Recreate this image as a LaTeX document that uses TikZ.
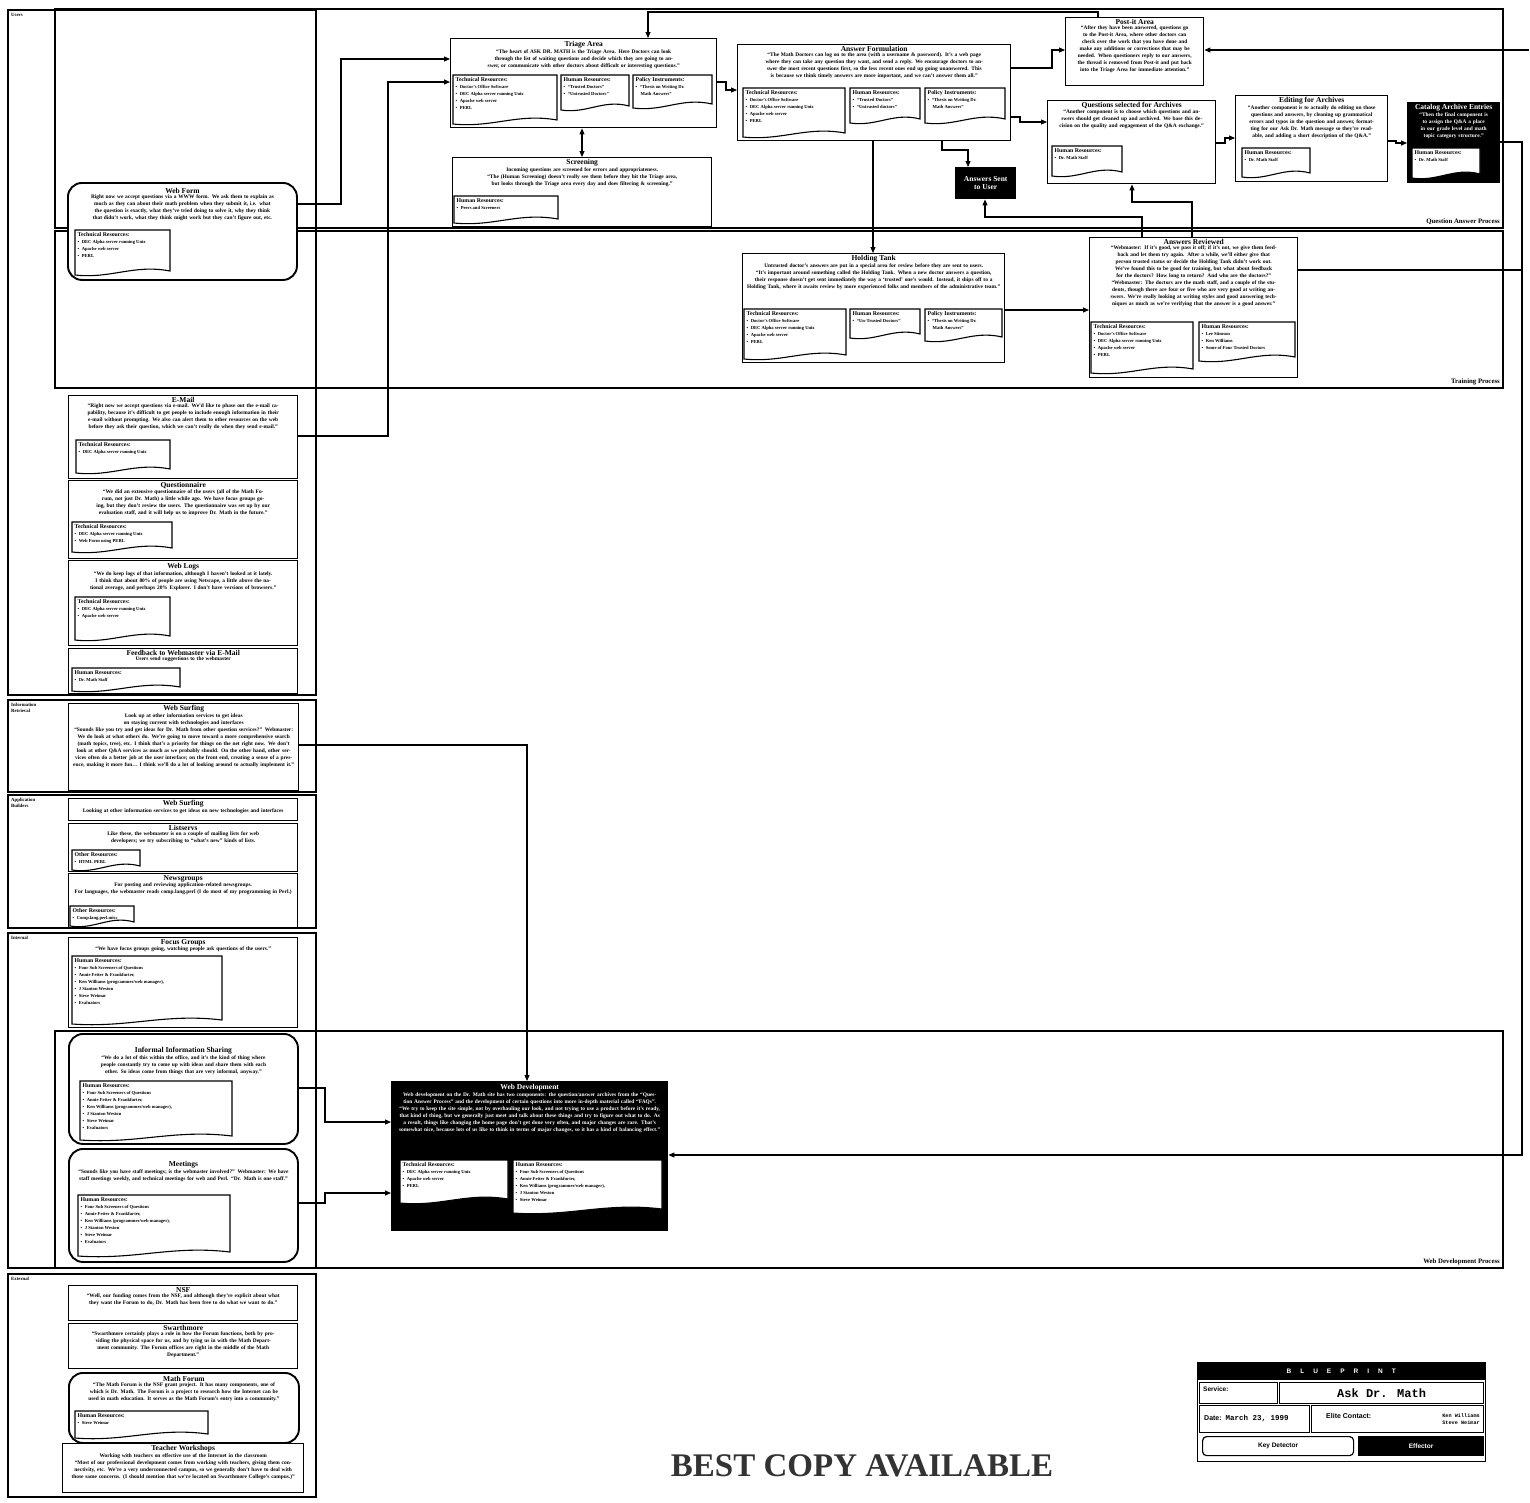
\documentclass[tikz,border=0pt]{standalone}
\usepackage{fontspec}
\setmainfont{Liberation Serif}
\newfontfamily\bpsans{Liberation Sans}
\newfontfamily\bpmono{Liberation Mono}
\usetikzlibrary{arrows.meta}
\newcommand\ttlfont{\fontsize{7.5}{8.5}\selectfont\bfseries}
\newcommand\bdyfont{\fontsize{5.4}{7}\selectfont\bfseries}
\newcommand\doctfont{\fontsize{4.6}{7}\selectfont\bfseries}
\newcommand\resh[1]{{\fontsize{5.8}{7}\selectfont #1}}
\newcommand\dbul{\textbullet\hspace{2.5pt}}
\newcommand\bx[6]{\node[#6, anchor=north west, minimum width={#4-#2}, minimum height={#5-#3}] (#1) at (#2,#3) {};}
\newcommand\tbx[6][]{%
  \node[ttlx,#1] (#2-t) at (#2.north |- 0,#3) {#5};
  \node[bdyx,#1,text width=#4] (#2-b) at ([yshift=-1pt]#2-t.south) {#6};}
\newcommand\rdoc[6]{%
  \path[docx] (#2,#3) -- (#4,#3) -- (#4,#5-4) .. controls ({#2+0.62*(#4-#2)},#5-11) and ({#2+0.38*(#4-#2)},#5+4) .. (#2,#5) -- cycle;
  \node[doctx] (#1) at (#2+2.5,#3+2.5) {#6};}
\newcommand\trA{\resh{Technical Resources:}\\\dbul Doctor's Office Software\\\dbul DEC Alpha server running Unix\\\dbul Apache web server\\\dbul PERL}
\newcommand\trB{\resh{Technical Resources:}\\\dbul DEC Alpha server running Unix\\\dbul Apache web server\\\dbul PERL}
\newcommand\hrStaff{\resh{Human Resources:}\\\dbul Dr. Math Staff}
\newcommand\piThesis{\resh{Policy Instruments:}\\\dbul ``Thesis on Writing Dr.\\\hspace*{5pt}Math Answers''}
\newcommand\hrTeam{\resh{Human Resources:}\\\dbul Four Sub Screeners of Questions\\\dbul Annie Fetter \& Frankfurter,\\\dbul Ken Williams (programmer/web manager),\\\dbul J Stanton Weston\\\dbul Steve Weimar\\\dbul Evaluators}
\tikzset{
  lanebox/.style={draw, line width=1.1pt},
  boxw/.style={draw, line width=1.4pt, fill=white, inner sep=0pt},
  boxr/.style={boxw, rounded corners=14pt, line width=1.9pt},
  boxb/.style={draw, line width=1.4pt, fill=black, inner sep=0pt},
  ttlx/.style={anchor=north, font=\ttlfont, align=center, inner sep=0pt},
  bdyx/.style={anchor=north, font=\bdyfont, align=center, inner sep=0pt},
  docx/.style={draw, line width=1.1pt, fill=white},
  doctx/.style={anchor=north west, align=left, inner sep=0pt, font=\doctfont},
  lblx/.style={anchor=north west, align=left, inner sep=0pt, font=\fontsize{4.8}{5.8}\selectfont\bfseries},
  plblx/.style={anchor=south east, inner sep=0pt, font=\fontsize{6.8}{7.5}\selectfont\bfseries},
  connar/.style={line width=1.1pt, -{Triangle[length=6pt,width=5pt]}},
  connln/.style={line width=1.1pt},
  bpcell/.style={draw, line width=1.2pt, anchor=north west, inner sep=0pt},
}
\begin{document}
\begin{tikzpicture}[x=1pt,y=-1pt]
\useasboundingbox (0,0) rectangle (1530,1502);
\fill[white] (0,0) rectangle (1530,1502);

% ---------- actor lanes ----------
\draw[lanebox] (8,10) rectangle (316,695);
\node[lblx] (l-users) at (11,13) {Users};
\draw[lanebox] (8,700) rectangle (316,792);
\node[lblx] (l-ir) at (11,703) {Information\\Retrieval};
\draw[lanebox] (8,795) rectangle (316,928);
\node[lblx] (l-ab) at (11,798) {Application\\Builders};
\draw[lanebox] (8,933) rectangle (316,1268);
\node[lblx] (l-int) at (11,936) {Internal};
\draw[lanebox] (8,1274) rectangle (316,1497);
\node[lblx] (l-ext) at (11,1277) {External};

% ---------- processes ----------
\draw[lanebox] (55,9) rectangle (1503,228);
\node[plblx] (p-qa) at (1500,225) {Question Answer Process};
\draw[lanebox] (55,231) rectangle (1503,388);
\node[plblx] (p-tr) at (1500,385) {Training Process};
\draw[lanebox] (55,1031) rectangle (1503,1268);
\node[plblx] (p-wd) at (1500,1265) {Web Development Process};

% ---------- Users ----------
\bx{webform}{67}{182}{296}{279}{boxr}
\tbx{webform}{188}{220pt}{Web Form}{Right now we accept questions via a WWW form. We ask them to explain as much as they can about their math problem when they submit it, i.e. what the question is exactly, what they've tried doing to solve it, why they think that didn't work, what they think might work but they can't figure out, etc.}
\rdoc{webform-tr}{75}{230}{170}{275}{\trB}

\bx{email}{68}{395}{297}{478}{boxw}
\tbx{email}{397}{222pt}{E-Mail}{``Right now we accept questions via e-mail. We'd like to phase out the e-mail capability, because it's difficult to get people to include enough information in their e-mail without prompting. We also can alert them to other resources on the web before they ask their question, which we can't really do when they send e-mail.''}
\rdoc{email-tr}{76}{440}{170}{473}{\resh{Technical Resources:}\\\dbul DEC Alpha server running Unix}

\bx{quest}{68}{480}{297}{558}{boxw}
\tbx{quest}{482}{222pt}{Questionnaire}{``We did an extensive questionnaire of the users (all of the Math Forum, not just Dr. Math) a little while ago. We have focus groups going, but they don't review the users. The questionnaire was set up by our evaluation staff, and it will help us to improve Dr. Math in the future.''}
\rdoc{quest-tr}{72}{522}{172}{552}{\resh{Technical Resources:}\\\dbul DEC Alpha server running Unix\\\dbul Web Form using PERL}

\bx{logs}{68}{560}{297}{645}{boxw}
\tbx{logs}{563}{222pt}{Web Logs}{``We do keep logs of that information, although I haven't looked at it lately. I think that about 80\% of people are using Netscape, a little above the national average, and perhaps 20\% Explorer. I don't have versions of browsers.''}
\rdoc{logs-tr}{75}{597}{170}{640}{\resh{Technical Resources:}\\\dbul DEC Alpha server running Unix\\\dbul Apache web server}

\bx{feedback}{68}{648}{297}{693}{boxw}
\tbx{feedback}{650}{222pt}{Feedback to Webmaster via E-Mail}{Users send suggestions to the webmaster}
\rdoc{feedback-hr}{72}{668}{180}{691}{\hrStaff}

% ---------- Information Retrieval ----------
\bx{websurf}{68}{703}{298}{790}{boxw}
\tbx{websurf}{705}{222pt}{Web Surfing}{Look up at other information services to get ideas on staying current with technologies and interfaces\\``Sounds like you try and get ideas for Dr. Math from other question services?'' Webmaster: We do look at what others do. We're going to move toward a more comprehensive search (math topics, tree), etc. I think that's a priority for things on the net right now. We don't look at other Q\&A services as much as we probably should. On the other hand, other services often do a better job at the user interface; on the front end, creating a sense of a presence, making it more fun\dots\ I think we'll do a lot of looking around to actually implement it.''}

% ---------- Application Builders ----------
\bx{websurf2}{68}{798}{297}{820}{boxw}
\tbx{websurf2}{800}{222pt}{Web Surfing}{Looking at other information services to get ideas on new technologies and interfaces}

\bx{listserv}{68}{823}{297}{871}{boxw}
\tbx{listserv}{825}{222pt}{Listservs}{Like these, the webmaster is on a couple of mailing lists for web developers; we try subscribing to ``what's new'' kinds of lists.}
\rdoc{listserv-or}{72}{850}{140}{870}{\resh{Other Resources:}\\\dbul HTML PERL}

\bx{news}{68}{873}{297}{927}{boxw}
\tbx{news}{875}{222pt}{Newsgroups}{For posting and reviewing application-related newsgroups.\\For languages, the webmaster reads comp.lang.perl (I do most of my programming in Perl.)}
\rdoc{news-or}{70}{906}{134}{926}{\resh{Other Resources:}\\\dbul Comp.lang.perl.misc}

% ---------- Internal ----------
\bx{focus}{68}{937}{297}{1027}{boxw}
\tbx{focus}{939}{222pt}{Focus Groups}{``We have focus groups going, watching people ask questions of the users.''}
\rdoc{focus-hr}{72}{956}{222}{1024}{\hrTeam}

\bx{informal}{68}{1033}{297}{1143}{boxr}
\tbx{informal}{1047}{215pt}{Informal Information Sharing}{``We do a lot of this within the office, and it's the kind of thing where people constantly try to come up with ideas and share them with each other. So ideas come from things that are very informal, anyway.''}
\rdoc{informal-hr}{80}{1081}{232}{1140}{\hrTeam}

\bx{meetings}{68}{1148}{297}{1261}{boxr}
\tbx{meetings}{1161}{215pt}{Meetings}{``Sounds like you have staff meetings; is the webmaster involved?'' Webmaster: We have staff meetings weekly, and technical meetings for web and Perl. ``Dr. Math is one staff.''}
\rdoc{meetings-hr}{78}{1195}{230}{1256}{\hrTeam}

% ---------- External ----------
\bx{nsf}{68}{1285}{297}{1320}{boxw}
\tbx{nsf}{1287}{222pt}{NSF}{``Well, our funding comes from the NSF, and although they're explicit about what they want the Forum to do, Dr. Math has been free to do what we want to do.''}

\bx{swat}{68}{1323}{297}{1368}{boxw}
\tbx{swat}{1325}{222pt}{Swarthmore}{``Swarthmore certainly plays a role in how the Forum functions, both by providing the physical space for us, and by tying us in with the Math Department community. The Forum offices are right in the middle of the Math\\Department.''}

\bx{mathforum}{68}{1372}{298}{1442}{boxr}
\tbx{mathforum}{1376}{215pt}{Math Forum}{``The Math Forum is the NSF grant project. It has many components, one of which is Dr. Math. The Forum is a project to research how the Internet can be used in math education. It serves as the Math Forum's entry into a community.''}
\rdoc{mathforum-hr}{75}{1411}{208}{1438}{\resh{Human Resources:}\\\dbul Steve Weimar}

\bx{teacher}{62}{1443}{303}{1492}{boxw}
\tbx{teacher}{1445}{232pt}{Teacher Workshops}{Working with teachers on effective use of the Internet in the classroom\\``Most of our professional development comes from working with teachers, giving them connectivity, etc. We're a very underconnected campus, so we generally don't have to deal with those same concerns. (I should mention that we're located on Swarthmore College's campus.)''}

% ---------- Question Answer Process ----------
\bx{triage}{450}{38}{716}{127}{boxw}
\tbx{triage}{41}{256pt}{Triage Area}{``The heart of ASK DR. MATH is the Triage Area. Here Doctors can look through the list of waiting questions and decide which they are going to answer, or communicate with other doctors about difficult or interesting questions.''}
\rdoc{triage-tr}{453}{75}{557}{124}{\trA}
\rdoc{triage-hr}{561}{75}{629}{110}{\resh{Human Resources:}\\\dbul ``Trusted Doctors''\\\dbul ``Untrusted Doctors''}
\rdoc{triage-pi}{633}{75}{712}{108}{\piThesis}

\bx{screen}{452}{157}{711}{226}{boxw}
\tbx{screen}{159}{250pt}{Screening}{Incoming questions are screened for errors and appropriateness.\\``The (Human Screening) doesn't really see them before they hit the Triage area, but looks through the Triage area every day and does filtering \& screening.''}
\rdoc{screen-hr}{454}{196}{558}{223}{\resh{Human Resources:}\\\dbul Peers and Screeners}

\bx{af}{737}{44}{1010}{140}{boxw}
\tbx{af}{46}{262pt}{Answer Formulation}{``The Math Doctors can log on to the area (with a username \& password). It's a web page where they can take any question they want, and send a reply. We encourage doctors to answer the most recent questions first, so the less recent ones end up going unanswered. This is because we think timely answers are more important, and we can't answer them all.''}
\rdoc{af-tr}{743}{88}{845}{137}{\trA}
\rdoc{af-hr}{850}{88}{920}{123}{\resh{Human Resources:}\\\dbul ``Trusted Doctors''\\\dbul ``Untrusted doctors''}
\rdoc{af-pi}{925}{88}{1005}{123}{\piThesis}

\bx{sent}{955}{167}{1015}{198}{boxb}
\node[font=\ttlfont, text=white, align=center, inner sep=0pt] (sent-t) at (sent.center) {Answers Sent\\to User};

\bx{postit}{1065}{17}{1203}{85}{boxw}
\tbx{postit}{19}{130pt}{Post-it Area}{``After they have been answered, questions go to the Post-it Area, where other doctors can check over the work that you have done and make any additions or corrections that may be needed. When questioners reply to our answers, the thread is removed from Post-it and put back into the Triage Area for immediate attention.''}

\bx{qsa}{1047}{100}{1215}{183}{boxw}
\tbx{qsa}{102}{160pt}{Questions selected for Archives}{``Another component is to choose which questions and answers should get cleaned up and archived. We base this decision on the quality and engagement of the Q\&A exchange.''}
\rdoc{qsa-hr}{1052}{146}{1122}{176}{\hrStaff}

\bx{edit}{1235}{95}{1387}{181}{boxw}
\tbx{edit}{97}{144pt}{Editing for Archives}{``Another component is to actually do editing on those questions and answers, by cleaning up grammatical errors and typos in the question and answer, formatting for our Ask Dr. Math message so they're readable, and adding a short description of the Q\&A.''}
\rdoc{edit-hr}{1242}{148}{1310}{177}{\hrStaff}

\bx{catalog}{1407}{102}{1499}{182}{boxb}
\tbx[text=white]{catalog}{104}{88pt}{Catalog Archive Entries}{``Then the final component is to assign the Q\&A a place in our grade level and math topic category structure.''}
\rdoc{catalog-hr}{1412}{148}{1480}{178}{\hrStaff}

% ---------- Training Process ----------
\bx{ht}{742}{253}{1004}{362}{boxw}
\tbx{ht}{255}{255pt}{Holding Tank}{Untrusted doctor's answers are put in a special area for review before they are sent to users.\\``It's important around something called the Holding Tank. When a new doctor answers a question, their response doesn't get sent immediately the way a `trusted' one's would. Instead, it ships off to a Holding Tank, where it awaits review by more experienced folks and members of the administrative team.''}
\rdoc{ht-tr}{744}{309}{846}{359}{\trA}
\rdoc{ht-hr}{850}{309}{920}{338}{\resh{Human Resources:}\\\dbul ``Un-Trusted Doctors''}
\rdoc{ht-pi}{925}{309}{1002}{341}{\piThesis}

\bx{ar}{1089}{237}{1297}{377}{boxw}
\tbx{ar}{239}{202pt}{Answers Reviewed}{``Webmaster: If it's good, we pass it off; if it's not, we give them feedback and let them try again. After a while, we'll either give that person trusted status or decide the Holding Tank didn't work out. We've found this to be good for training, but what about feedback for the doctors? How long to return? And who are the doctors?''\\``Webmaster: The doctors are the math staff, and a couple of the students, though there are four or five who are very good at writing answers. We're really looking at writing styles and good answering techniques as much as we're verifying that the answer is a good answer.''}
\rdoc{ar-tr}{1091}{322}{1193}{373}{\trA}
\rdoc{ar-hr}{1199}{322}{1295}{361}{\resh{Human Resources:}\\\dbul Lee Stimson\\\dbul Ken Williams\\\dbul Some of Four Trusted Doctors}

% ---------- Web Development ----------
\bx{webdev}{391}{1081}{667}{1230}{boxb}
\tbx[text=white]{webdev}{1084}{266pt}{Web Development}{Web development on the Dr. Math site has two components: the question/answer archives from the ``Question Answer Process'' and the development of certain questions into more in-depth material called ``FAQs''.\\``We try to keep the site simple, not by overhauling our look, and not trying to use a product before it's ready, that kind of thing, but we generally just meet and talk about these things and try to figure out what to do. As a result, things like changing the home page don't get done very often, and major changes are rare. That's somewhat nice, because lots of us like to think in terms of major changes, so it has a kind of balancing effect.''}
\rdoc{webdev-tr}{400}{1160}{508}{1203}{\trB}
\rdoc{webdev-hr}{513}{1160}{662}{1213}{\resh{Human Resources:}\\\dbul Four Sub Screeners of Questions\\\dbul Annie Fetter \& Frankfurter,\\\dbul Ken Williams (programmer/web manager),\\\dbul J Stanton Weston\\\dbul Steve Weimar}

% ---------- connectors ----------
\coordinate (rin) at (1529,50);
\draw[connar] (webform.east |- 0,204) -- (341,204) -- (341,59) -- (triage.west |- 0,59);
\draw[connar] (email.east |- 0,436) -- (388,436) -- (388,82) -- (triage.west |- 0,82);
\draw[connar] (triage.east |- 0,82) -- (726,82) -- (726,90) -- (af.west |- 0,90);
\draw[connln, {Triangle[length=6pt,width=5pt]}-{Triangle[length=6pt,width=5pt]}] (triage.south -| 582,0) -- (screen.north -| 582,0);
\draw[connar] (af.east |- 0,68) -- (1052,68) -- (1052,50) -- (postit.west |- 0,50);
\draw[connar] (af.east |- 0,117) -- (1020,117) -- (1020,122) -- (qsa.west |- 0,122);
\draw[connar] (af.south -| 942,0) -- (942,150) -- (968,150) -- (sent.north -| 968,0);
\draw[connar] (af.south -| 873,0) -- (ht.north -| 873,0);
\draw[connar] (ht.east |- 0,310) -- (ar.west |- 0,310);
\draw[connar] (ar.north -| 1192,0) -- (1192,202) -- (1132,202) -- (qsa.south -| 1132,0);
\draw[connar] (ar.north -| 1142,0) -- (1142,217) -- (985,217) -- (sent.south -| 985,0);
\draw[connar] (qsa.east |- 0,143) -- (1225,143) -- (1225,138) -- (edit.west |- 0,138);
\draw[connar] (edit.east |- 0,141) -- (1396,141) -- (1396,143) -- (catalog.west |- 0,143);
\draw[connar] (catalog.east |- 0,142) -- (1522,142) -- (1522,1155) -- (webdev.east |- 0,1155);
\draw[connln] (ar.east |- 0,270) -- (1522,270);
\draw[connar] (rin) -- (postit.east |- 0,50);
\draw[connar] (postit.north -| 1098,0) -- (1098,12) -- (648,12) -- (triage.north -| 648,0);
\draw[connar] (websurf.east |- 0,745) -- (527,745) -- (webdev.north -| 527,0);
\draw[connar] (informal.east |- 0,1088) -- (325,1088) -- (325,1122) -- (webdev.west |- 0,1122);
\draw[connar] (meetings.east |- 0,1203) -- (325,1203) -- (325,1193) -- (webdev.west |- 0,1193);

% ---------- blueprint ----------
\node[bpcell, minimum width=288, minimum height=99] (bp) at (1197,1362) {};
\node[fill=black, anchor=north west, minimum width=288, minimum height=18, inner sep=0pt, text=white, font=\bpsans\bfseries\fontsize{6.5}{7}\selectfont] (bp-title) at (1197,1362) {B\hspace{9pt}L\hspace{9pt}U\hspace{9pt}E\hspace{9pt}P\hspace{9pt}R\hspace{9pt}I\hspace{9pt}N\hspace{9pt}T};
\node[bpcell, minimum width=78, minimum height=21] (bp-svc) at (1199,1382) {};
\node[anchor=west, inner sep=0pt, font=\bpsans\bfseries\fontsize{6.5}{7}\selectfont] (bp-svc-t) at (1203,1389) {Service:};
\node[bpcell, minimum width=204, minimum height=21, font=\bpmono\bfseries\fontsize{12}{12}\selectfont] (bp-name) at (1279,1382) {Ask Dr. Math};
\node[bpcell, minimum width=110, minimum height=27] (bp-date) at (1199,1405) {};
\node[anchor=west, inner sep=0pt] (bp-date-t) at (1204,1418) {{\bpsans\bfseries\fontsize{7}{8}\selectfont Date:}\hspace{4pt}{\bpmono\bfseries\fontsize{7.5}{8}\selectfont March 23, 1999}};
\node[bpcell, minimum width=172, minimum height=27] (bp-elite) at (1311,1405) {};
\node[anchor=west, inner sep=0pt, font=\bpsans\bfseries\fontsize{7}{8}\selectfont] (bp-elite-t) at (1326,1416) {Elite Contact:};
\node[anchor=east, align=right, inner sep=0pt, font=\bpmono\bfseries\fontsize{5.2}{7}\selectfont] (bp-names) at (1480,1419) {Ken Williams\\Steve Weimar};
\node[bpcell, rounded corners=4pt, minimum width=151, minimum height=19, font=\bpsans\bfseries\fontsize{6.5}{7}\selectfont] (bp-key) at (1202,1436) {Key Detector};
\node[bpcell, fill=black, text=white, minimum width=125, minimum height=19, font=\bpsans\bfseries\fontsize{6.5}{7}\selectfont] (bp-eff) at (1358,1436) {Effector};

\node[font=\fontsize{33}{33}\selectfont\bfseries, text=black!80, inner sep=0pt] (bestcopy) at (862,1466) {BEST COPY AVAILABLE};
\end{tikzpicture}
\end{document}
